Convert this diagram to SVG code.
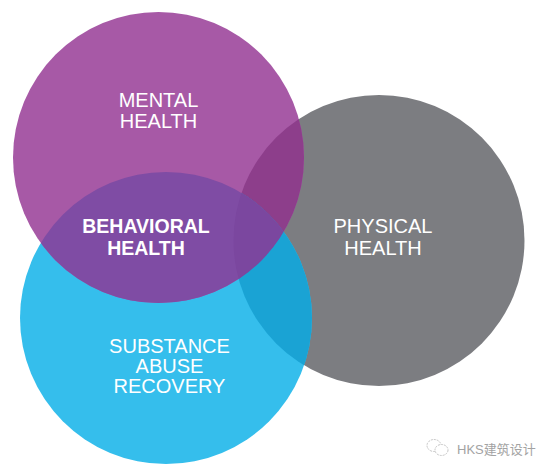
<svg xmlns="http://www.w3.org/2000/svg" width="550" height="472" viewBox="0 0 550 472">
<style>
.lbl{font-family:"Liberation Sans",Arial,sans-serif;font-size:20px;fill:#ffffff;text-anchor:middle}
.bold{font-weight:bold;font-size:19.5px}
.wm{font-family:"Liberation Sans","Noto Sans CJK SC",sans-serif;font-size:13px;fill:#a3a3a3}
</style>
<defs>
<clipPath id="cM"><circle cx="158.5" cy="157.5" r="145.5"/></clipPath>
<clipPath id="cG"><circle cx="379" cy="240.5" r="145.5"/></clipPath>
<clipPath id="cB"><circle cx="166" cy="318" r="146"/></clipPath>
</defs>
<rect width="550" height="472" fill="#ffffff"/>
<g id="physical-health">
<circle cx="379" cy="240.5" r="145.5" fill="#7C7D81"/>
</g>
<g id="substance-abuse-recovery">
<circle cx="166" cy="318" r="146" fill="#35BEEC"/>
</g>
<g id="mental-health">
<circle cx="158.5" cy="157.5" r="145.5" fill="#A759A6"/>
</g>
<g id="overlaps">
<circle cx="379" cy="240.5" r="145.5" fill="#8D3E8B" clip-path="url(#cM)"/>
<circle cx="379" cy="240.5" r="145.5" fill="#1AA3D4" clip-path="url(#cB)"/>
<circle cx="166" cy="318" r="146" fill="#7F4CA4" clip-path="url(#cM)"/>
<g clip-path="url(#cG)">
<circle cx="166" cy="318" r="146" fill="#7B479F" clip-path="url(#cM)"/>
</g>
</g>
<g id="labels">
<text class="lbl" x="158.5" y="107.3">MENTAL</text>
<text class="lbl" x="158.5" y="128.3">HEALTH</text>
<text class="lbl" x="383" y="232.7">PHYSICAL</text>
<text class="lbl" x="383" y="255">HEALTH</text>
<text class="lbl" x="169.5" y="353.3">SUBSTANCE</text>
<text class="lbl" x="169.5" y="372.8">ABUSE</text>
<text class="lbl" x="169.5" y="392.6">RECOVERY</text>
<text class="lbl bold" x="146" y="233.3">BEHAVIORAL</text>
<text class="lbl bold" x="146" y="255">HEALTH</text>
</g>
<g id="connectors"></g>
<g id="watermark">
<ellipse cx="434" cy="445.5" rx="7" ry="6" fill="none" stroke="#c4c4c4" stroke-width="1" stroke-dasharray="2 1"/>
<ellipse cx="441.5" cy="450" rx="6.5" ry="5.5" fill="#ffffff" stroke="#c4c4c4" stroke-width="1" stroke-dasharray="2 1"/>
<text class="wm" x="457" y="454.3">HKS建筑设计</text>
</g>
</svg>
